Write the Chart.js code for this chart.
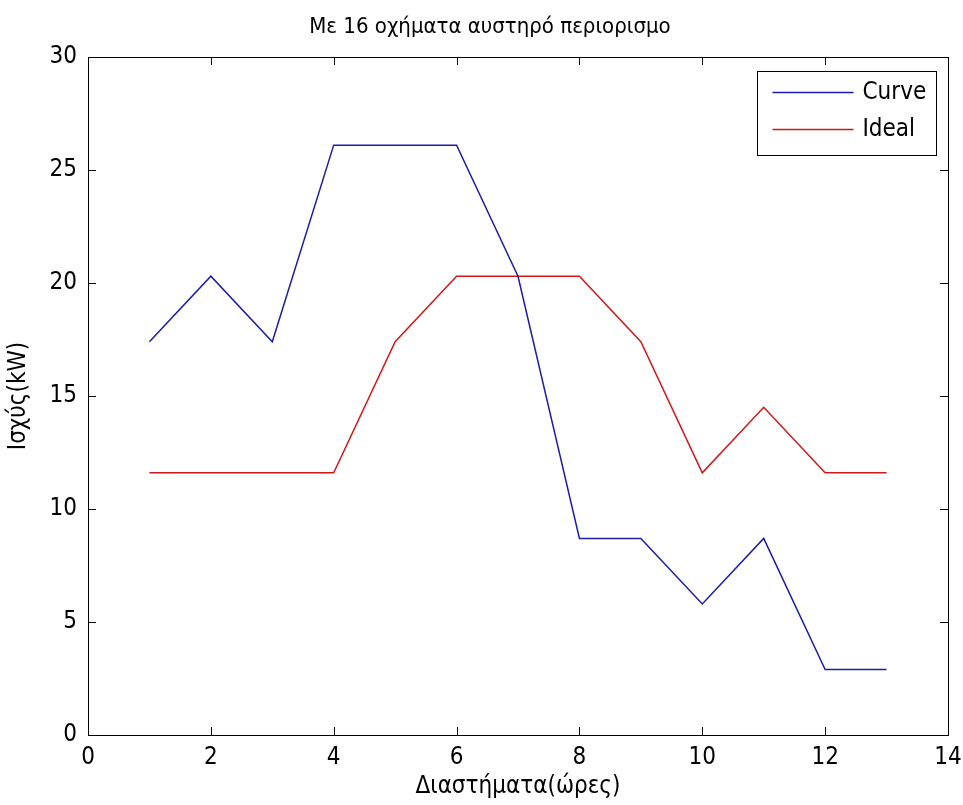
<!DOCTYPE html>
<html>
<head>
<meta charset="utf-8">
<script src="https://cdn.jsdelivr.net/npm/chart.js@4.4.1/dist/chart.umd.min.js"></script>
<style>
  body { margin: 0; background: #fff; }
</style>
</head>
<body>
<canvas id="chart" width="963" height="805"></canvas>
<script>
// Data
const hours = [1, 2, 3, 4, 5, 6, 7, 8, 9, 10, 11, 12, 13];
const curveValues = [17.4, 20.3, 17.4, 26.1, 26.1, 26.1, 20.3, 8.7, 8.7, 5.8, 8.7, 2.9, 2.9];
const idealValues = [11.6, 11.6, 11.6, 11.6, 17.4, 20.3, 20.3, 20.3, 17.4, 11.6, 14.5, 11.6, 11.6];
const seriesNames = ['Curve', 'Ideal'];
const titleText = 'Με 16 οχήματα αυστηρό περιορισμο';

const FONT = "'Liberation Sans Narrow', 'Arial Narrow', 'DejaVu Sans Condensed', sans-serif";

// MATLAB-like axes box with ticks pointing inward on all four sides
const boxPlugin = {
    id: 'matlabBox',
    afterDraw(chart) {
        const ctx = chart.ctx;
        const a = chart.chartArea;
        const tl = 8;
        ctx.save();
        ctx.strokeStyle = '#000';
        ctx.lineWidth = 1;
        ctx.strokeRect(Math.round(a.left) + 0.5, Math.round(a.top) + 0.5,
            Math.round(a.right - a.left), Math.round(a.bottom - a.top));
        ctx.beginPath();
        const xs = chart.scales.x;
        xs.ticks.forEach(t => {
            const px = Math.round(xs.getPixelForValue(t.value)) + 0.5;
            ctx.moveTo(px, a.bottom); ctx.lineTo(px, a.bottom - tl);
            ctx.moveTo(px, a.top); ctx.lineTo(px, a.top + tl);
        });
        const ys = chart.scales.y;
        ys.ticks.forEach(t => {
            const py = Math.round(ys.getPixelForValue(t.value)) + 0.5;
            ctx.moveTo(a.left, py); ctx.lineTo(a.left + tl, py);
            ctx.moveTo(a.right, py); ctx.lineTo(a.right - tl, py);
        });
        ctx.stroke();

        // title above the axes
        ctx.fillStyle = '#000';
        ctx.font = '22px ' + FONT;
        ctx.textAlign = 'center';
        ctx.textBaseline = 'middle';
        ctx.fillText(titleText, (a.left + a.right) / 2 - 28, 27);

        // legend box in the upper right corner
        const w = 179, h = 84;
        const lx = Math.round(a.right) - 12 - w + 0.5;
        const ly = Math.round(a.top) + 14 + 0.5;
        ctx.fillStyle = '#fff';
        ctx.fillRect(lx, ly, w, h);
        ctx.strokeRect(lx, ly, w, h);
        ctx.font = '24px ' + FONT;
        ctx.textAlign = 'left';
        chart.data.datasets.forEach((ds, i) => {
            const y = ly + 21 + i * 37;
            ctx.strokeStyle = ds.borderColor;
            ctx.lineWidth = ds.borderWidth;
            ctx.beginPath();
            ctx.moveTo(lx + 15, y); ctx.lineTo(lx + 96, y);
            ctx.stroke();
            ctx.fillStyle = '#000';
            ctx.fillText(ds.label, lx + 105, y);
        });
        ctx.restore();
    }
};

new Chart(document.getElementById('chart'), {
    type: 'line',
    data: {
        datasets: [
            {
                label: seriesNames[0],
                data: hours.map((h, i) => ({ x: h, y: curveValues[i] })),
                borderColor: '#1c1ca8',
                borderWidth: 1.5,
                pointRadius: 0,
                tension: 0
            },
            {
                label: seriesNames[1],
                data: hours.map((h, i) => ({ x: h, y: idealValues[i] })),
                borderColor: '#d01818',
                borderWidth: 1.5,
                pointRadius: 0,
                tension: 0
            }
        ]
    },
    options: {
        responsive: false,
        animation: false,
        layout: { padding: { left: 0, right: 15, top: 57, bottom: 0 } },
        plugins: {
            legend: { display: false },
            tooltip: { enabled: false },
            title: { display: false }
        },
        scales: {
            x: {
                type: 'linear',
                min: 0,
                max: 14,
                grid: { display: false, drawTicks: false },
                border: { display: false },
                ticks: {
                    stepSize: 2,
                    color: '#000',
                    padding: 8,
                    maxRotation: 0,
                    font: { family: FONT, size: 24 }
                },
                title: {
                    display: true,
                    text: 'Διαστήματα(ώρες)',
                    color: '#000',
                    font: { family: FONT, size: 24, lineHeight: 1.2 },
                    padding: { top: 2 }
                },
                afterFit(scale) {
                    scale.height = 70;
                    scale.paddingRight = 0;
                }
            },
            y: {
                min: 0,
                max: 30,
                grid: { display: false, drawTicks: false },
                border: { display: false },
                ticks: {
                    stepSize: 5,
                    color: '#000',
                    padding: 11,
                    font: { family: FONT, size: 24 }
                },
                title: {
                    display: true,
                    text: 'Ισχύς(kW)',
                    color: '#000',
                    font: { family: FONT, size: 24, lineHeight: 1.2 },
                    padding: { top: 4 }
                },
                afterFit(scale) { scale.width = 88; }
            }
        }
    },
    plugins: [boxPlugin]
});
</script>
</body>
</html>
